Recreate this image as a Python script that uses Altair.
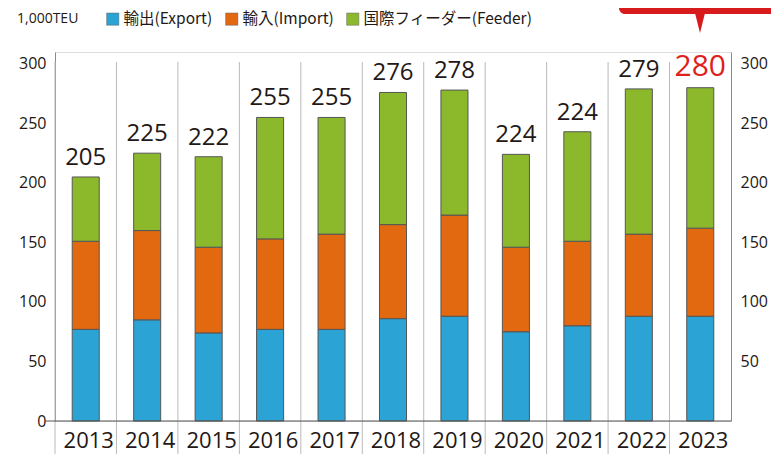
import altair as alt
import pandas as pd

years = ["2013", "2014", "2015", "2016", "2017", "2018", "2019", "2020", "2021", "2022", "2023"]
export_vals = [77, 85, 74, 77, 77, 86, 88, 75, 80, 88, 88]
import_vals = [74, 75, 72, 76, 80, 79, 85, 71, 71, 69, 74]
feeder_vals = [54, 65, 76, 102, 98, 111, 105, 78, 92, 122, 118]
total_labels = ["205", "225", "222", "255", "255", "276", "278", "224", "224", "279", "280"]
series_names = ["輸出(Export)", "輸入(Import)", "国際フィーダー(Feeder)"]
series_colors = ["#2ba3d5", "#e2690f", "#8cb92c"]
y_ticks = [0, 50, 100, 150, 200, 250, 300]
y_ticks_right = [50, 100, 150, 200, 250, 300]
unit_text = "1,000TEU"
callout_text = "Maximum in the past"

W, H = 676, 369
NUM = "Open Sans"
CJK = "Noto Sans CJK JP"
INK = "#231815"

rows = []
for i, y in enumerate(years):
    for k, (name, vals) in enumerate(zip(series_names, [export_vals, import_vals, feeder_vals])):
        rows.append({"year": y, "series": name, "value": vals[i], "order": k})
df = pd.DataFrame(rows)

tot = pd.DataFrame({
    "year": years,
    "total": [a + b + c for a, b, c in zip(export_vals, import_vals, feeder_vals)],
    "label": total_labels,
    "highlight": [y == "2023" for y in years],
})

yscale = alt.Scale(domain=[0, 310], nice=False, zero=True)
xscale = alt.Scale(domain=years, paddingInner=0, paddingOuter=0)
xaxis = alt.Axis(title=None, ticks=False, domain=False, labelAngle=0,
                 labelFont=NUM, labelFontSize=22, labelColor=INK,
                 labelPadding=9, labelOffset=3, labelOverlap=False, labelBaseline="top")

seps = alt.Chart(pd.DataFrame({"year": years})).mark_rule(color="#b9b9b9", strokeWidth=1).encode(
    x=alt.X("year:N", bandPosition=0, scale=xscale, axis=xaxis),
    y=alt.value(10),
    y2=alt.value(H + 45),
)

bars = alt.Chart(df).mark_bar(width=alt.RelativeBandSize(0.44), stroke="#555555", strokeWidth=1).encode(
    x=alt.X("year:N", scale=xscale, axis=xaxis),
    y=alt.Y("sum(value):Q", stack="zero", scale=yscale,
            axis=alt.Axis(title=None, values=y_ticks, ticks=False, grid=False,
                          domainColor="#8a8a8a", labelFont=NUM, labelFontSize=16,
                          labelColor=INK, labelPadding=9)),
    color=alt.Color("series:N",
                    scale=alt.Scale(domain=series_names, range=series_colors),
                    legend=alt.Legend(orient="none", legendX=50, legendY=-41, direction="horizontal",
                                      title=None, symbolType="square", symbolSize=150,
                                      symbolStrokeColor="#666666", symbolStrokeWidth=0.5,
                                      labelFont=CJK, labelFontSize=15.5, labelColor=INK,
                                      labelOffset=3, columnPadding=11, labelLimit=300)),
    order=alt.Order("order:Q"),
)

base_line = alt.Chart(pd.DataFrame({"v": [0]})).mark_rule(color="#555555", strokeWidth=1.2).encode(
    x=alt.value(-10), x2=alt.value(W), y=alt.Y("v:Q", scale=yscale, axis=None),
)

labels = alt.Chart(tot).mark_text(baseline="alphabetic", dy=-12, font=NUM).encode(
    x=alt.X("year:N", scale=xscale, axis=xaxis),
    y=alt.Y("total:Q", scale=yscale,
            axis=alt.Axis(title=None, orient="right", values=y_ticks_right, ticks=False, grid=False,
                          domainColor="#8a8a8a", labelFont=NUM, labelFontSize=16,
                          labelColor=INK, labelPadding=9)),
    text="label:N",
    color=alt.condition(alt.datum.highlight, alt.value("#e0201b"), alt.value(INK)),
    size=alt.condition(alt.datum.highlight, alt.value(30), alt.value(24)),
)

unit = alt.Chart(pd.DataFrame({"t": [unit_text]})).mark_text(
    align="left", baseline="middle", font=NUM, fontSize=14, color=INK
).encode(x=alt.value(-38), y=alt.value(-33), text="t:N")

box = alt.Chart(pd.DataFrame({"t": [callout_text]})).mark_rect(color="#d71a1c", cornerRadius=6).encode(
    x=alt.value(564), x2=alt.value(W + 120), y=alt.value(-80), y2=alt.value(-38)
)
pointer = alt.Chart(pd.DataFrame({"t": [callout_text]})).mark_point(
    shape="M-0.5,-1L0.5,-1L0,1Z", filled=True, color="#d71a1c", size=400, opacity=1
).encode(x=alt.value(645), y=alt.value(-29))
box_text = alt.Chart(pd.DataFrame({"t": [callout_text]})).mark_text(
    align="left", baseline="alphabetic", font=NUM, fontSize=16, color="white"
).encode(x=alt.value(570), y=alt.value(-49), text="t:N")

chart = alt.layer(seps, bars, base_line, labels, unit, box, pointer, box_text).resolve_axis(
    y="independent"
).properties(
    width=W, height=H,
    padding={"left": 47, "top": 44, "right": 40, "bottom": 40},
    autosize=alt.AutoSizeParams(type="none"),
).configure_view(stroke=None).configure(background="white")

chart.save("out.html", embed_options={"renderer": "svg", "actions": False})
